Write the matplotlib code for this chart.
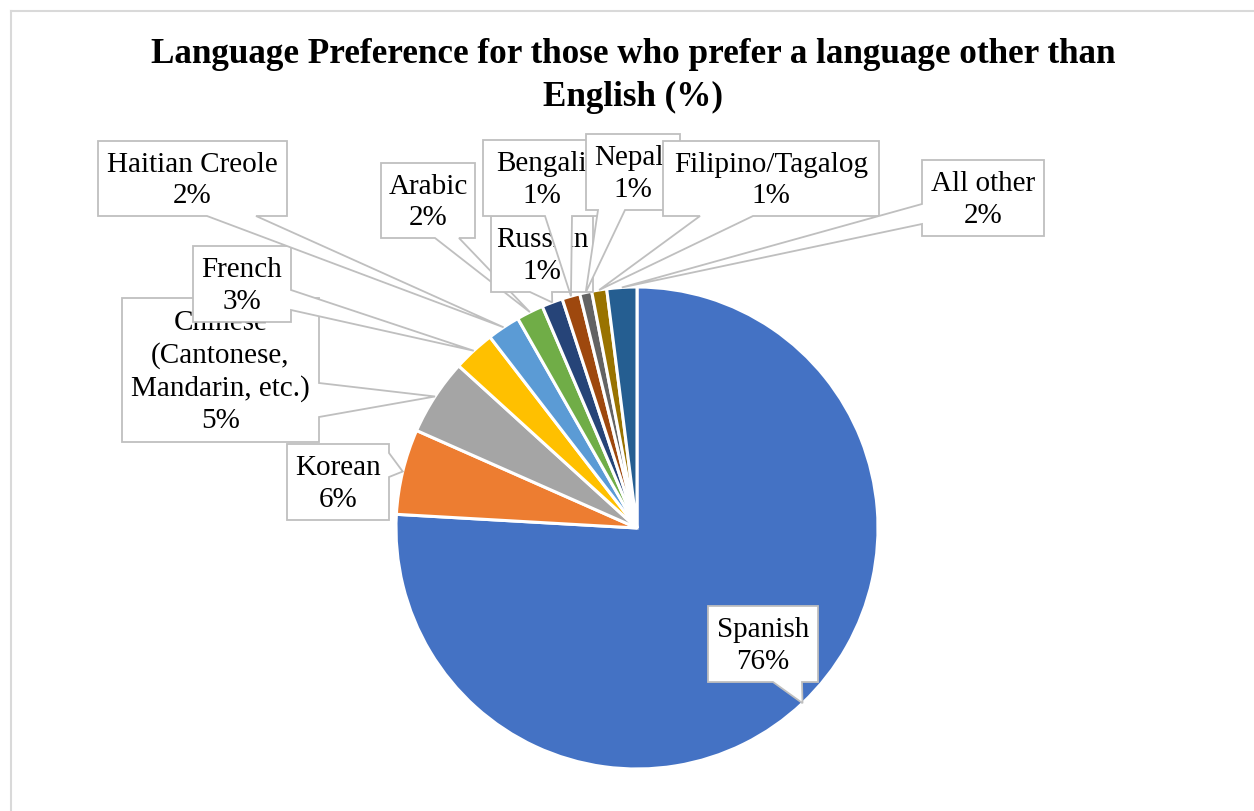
import matplotlib.pyplot as plt
from matplotlib.patches import Polygon
import numpy as np

# data
languages = ["Spanish", "Korean", "Chinese\n(Cantonese,\nMandarin, etc.)", "French",
             "Haitian Creole", "Arabic", "Russian", "Bengali", "Nepali",
             "Filipino/Tagalog", "All other"]
shares = [75.6, 5.7, 5.1, 2.8, 2.2, 1.8, 1.4, 1.2, 0.8, 1.0, 2.0]
colors = ["#4472C4", "#ED7D31", "#A5A5A5", "#FFC000", "#5B9BD5", "#70AD47",
          "#264478", "#9E480E", "#636363", "#997300", "#255E91"]

# callout boxes in pixel coords: (x0, y0, x1, y1), pointer edge, base range
boxes = [
    ((708, 606, 818, 682), "bottom", (773, 802)),
    ((287, 444, 389, 520), "right", (453, 477)),
    ((122, 298, 319, 442), "right", (383, 417)),
    ((193, 246, 291, 322), "right", (290, 310)),
    ((98, 141, 287, 216), "bottom", (207, 256)),
    ((381, 163, 475, 238), "bottom", (435, 459)),
    ((491, 216, 593, 292), "bottom", (530, 552)),
    ((483, 140, 600, 216), "bottom", (545, 572)),
    ((586, 134, 680, 210), "bottom", (598, 625)),
    ((663, 141, 879, 216), "bottom", (700, 753)),
    ((922, 160, 1044, 236), "left", (204, 224)),
]

W, H = 1254, 811
fig = plt.figure(figsize=(W / 100, H / 100), dpi=100)
ax = fig.add_axes([0, 0, 1, 1])

cx, cy, r = 637, H - 528, 241
wedges, _ = ax.pie(shares, colors=colors, startangle=90, counterclock=False,
                   center=(cx, cy), radius=r, frame=True,
                   wedgeprops=dict(edgecolor="white", linewidth=2.2))
ax.set_xlim(0, W)
ax.set_ylim(0, H)
ax.set_aspect("auto")
ax.axis("off")

total = sum(shares)
for i, w in enumerate(wedges):
    mid = np.deg2rad((w.theta1 + w.theta2) / 2)
    tx, ty = cx + r * np.cos(mid), cy + r * np.sin(mid)
    (x0, y0, x1, y1), edge, (b0, b1) = boxes[i]
    y0, y1 = H - y0, H - y1
    if edge == "bottom":
        pts = [(x0, y0), (x1, y0), (x1, y1), (b1, y1), (tx, ty), (b0, y1), (x0, y1)]
    elif edge == "right":
        pts = [(x0, y0), (x1, y0), (x1, H - b0), (tx, ty), (x1, H - b1), (x1, y1), (x0, y1)]
    else:
        pts = [(x0, y0), (x1, y0), (x1, y1), (x0, y1), (x0, H - b1), (tx, ty), (x0, H - b0)]
    ax.add_patch(Polygon(pts, closed=True, facecolor="white", edgecolor="#BFBFBF",
                         linewidth=1.3, zorder=3 + i * 2))
    label = f"{languages[i]}\n{shares[i] / total * 100:.0f}%"
    ax.text((x0 + x1) / 2, (y0 + y1) / 2 - 2, label, ha="center", va="center",
            fontsize=21, family="Liberation Serif", linespacing=1.28,
            zorder=4 + i * 2, clip_on=False)

ax.text(633, H - 76, "Language Preference for those who prefer a language other than\nEnglish (%)",
        ha="center", va="center", fontsize=25.3, fontweight="bold",
        family="Liberation Serif", linespacing=1.36)

# chart border
ax.plot([10.5, W], [H - 10.5, H - 10.5], color="#D9D9D9", lw=1.5)
ax.plot([10.5, 10.5], [0, H - 10.5], color="#D9D9D9", lw=1.5)

fig.savefig("out.png", dpi=100)
